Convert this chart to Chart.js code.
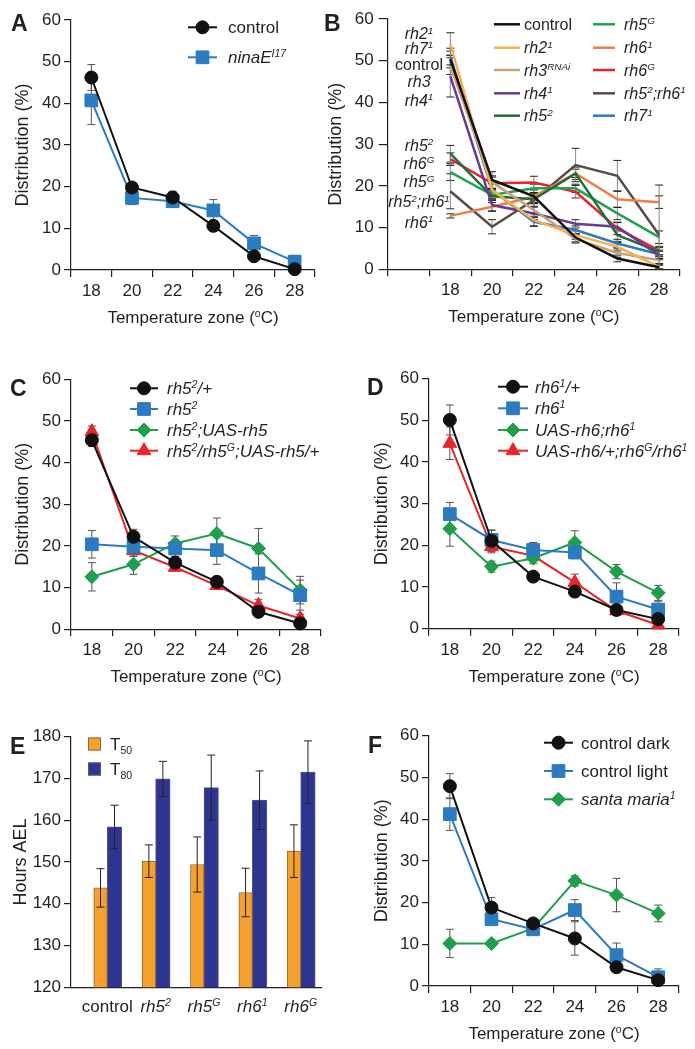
<!DOCTYPE html>
<html>
<head>
<meta charset="utf-8">
<script src="https://cdn.jsdelivr.net/npm/chart.js@4.4.0/dist/chart.umd.min.js"></script>
<style>
  body { margin: 0; background: #fff; width: 695px; height: 1049px; position: relative; overflow: hidden; }
  canvas { position: absolute; }
  .tag { position: absolute; font: bold 23px "Liberation Sans", Arial, sans-serif; line-height: 23px; color: #231f20; }
</style>
</head>
<body>
<canvas id="chartA"></canvas>
<canvas id="chartB"></canvas>
<canvas id="chartC"></canvas>
<canvas id="chartD"></canvas>
<canvas id="chartE"></canvas>
<canvas id="chartF"></canvas>
<div class="tag" style="left:11px;top:12px">A</div>
<div class="tag" style="left:324px;top:12px">B</div>
<div class="tag" style="left:10px;top:377px">C</div>
<div class="tag" style="left:367px;top:376px">D</div>
<div class="tag" style="left:10px;top:735px">E</div>
<div class="tag" style="left:368px;top:734px">F</div>
<script>
// ---- data ----
const temps = ['18', '20', '22', '24', '26', '28'];

// A
const aControl = [46.2, 19.8, 17.4, 10.6, 3.3, 0.2];
const aControlErr = [3.1, 0.9, 1.5, 1.2, 1.2, 0.3];
const aNinaE = [40.7, 17.3, 16.5, 14.3, 6.4, 2.0];
const aNinaEErr = [5.8, 1.6, 0.6, 2.6, 1.9, 1.5];

// B
const bLabels = ['control', '*rh2^{1}*', '*rh3^{RNAi}*', '*rh4^{1}*', '*rh5^{2}*',
                 '*rh5^{G}*', '*rh6^{1}*', '*rh6^{G}*', '*rh5^{2};rh6^{1}*', '*rh7^{1}*'];
const bColors = ['#111111', '#f5b24c', '#c5a27e', '#6a3b95', '#1d6e3a',
                 '#22a24f', '#ef7d45', '#e2272f', '#5a4c45', '#2b7bbf'];
const bValues = [
  [50.3, 21.4, 17.5, 7.6, 2.6, 0.5],
  [54.0, 19.0, 11.8, 8.2, 5.4, 0.6],
  [48.7, 20.9, 14.2, 7.3, 3.9, 2.2],
  [46.3, 15.4, 13.4, 10.9, 10.2, 3.3],
  [27.7, 17.5, 16.8, 23.0, 8.2, 4.2],
  [23.3, 17.8, 19.4, 19.4, 13.4, 7.7],
  [12.8, 15.0, 17.4, 23.0, 16.8, 16.1],
  [26.4, 20.6, 20.8, 18.6, 9.8, 4.5],
  [18.7, 10.2, 16.6, 25.0, 22.4, 8.2],
  [51.0, 19.0, 11.4, 9.4, 6.2, 3.6]
];
const bErrors = [
  [2.0, 2.0, 1.5, 1.0, 0.8, 0.5],
  [2.7, 1.5, 1.5, 1.0, 1.0, 0.5],
  [2.0, 1.5, 1.5, 1.0, 1.0, 0.8],
  [5.0, 1.5, 1.5, 1.0, 1.0, 1.0],
  [2.0, 1.0, 1.0, 1.5, 1.5, 1.0],
  [2.0, 1.0, 1.0, 1.0, 1.5, 1.5],
  [0.5, 1.0, 1.0, 1.0, 2.0, 1.5],
  [1.5, 1.5, 1.5, 1.5, 1.5, 1.0],
  [4.2, 1.7, 1.5, 4.0, 3.7, 12.0],
  [2.0, 1.5, 1.0, 1.0, 1.0, 1.0]
];
const bSideLabels = ['*rh2^{1}*', '*rh7^{1}*', 'control', '*rh3*', '*rh4^{1}*',
                     '*rh5^{2}*', '*rh6^{G}*', '*rh5^{G}*', '*rh5^{2};rh6^{1}*', '*rh6^{1}*'];
const bSideLevels = [56.5, 53.1, 49.1, 45.1, 40.6, 29.8, 25.4, 21.0, 16.2, 11.4];

// C
const cHet = [45.4, 22.2, 16.0, 11.4, 4.2, 1.4];
const cHetErr = [1.5, 1.8, 1.5, 1.2, 0.8, 1.0];
const cRh5 = [20.4, 19.8, 19.4, 19.0, 13.4, 8.2];
const cRh5Err = [3.3, 2.2, 2.0, 3.4, 4.7, 3.6];
const cRescue = [12.6, 15.6, 20.6, 23.0, 19.4, 9.4];
const cRescueErr = [3.4, 2.4, 1.8, 3.7, 4.8, 3.3];
const cGal4 = [47.4, 18.9, 14.9, 10.5, 5.7, 2.6];
const cGal4Err = [1.4, 1.4, 1.0, 0.8, 1.5, 1.0];

// D
const dHet = [50.1, 21.1, 12.5, 8.9, 4.5, 2.3];
const dHetErr = [3.6, 2.6, 1.0, 1.0, 0.8, 0.8];
const dRh6 = [27.5, 21.3, 18.9, 18.3, 7.7, 4.6];
const dRh6Err = [2.8, 2.3, 1.8, 1.5, 3.3, 2.0];
const dRescue = [24.0, 14.9, 16.9, 20.7, 13.7, 8.6];
const dRescueErr = [4.2, 1.3, 1.3, 2.8, 1.7, 1.8];
const dGal4 = [44.5, 19.7, 17.5, 11.1, 4.3, 0.9];
const dGal4Err = [3.9, 1.5, 1.0, 2.0, 1.0, 0.5];

// E
const eGenotypes = ['control', '*rh5^{2}*', '*rh5^{G}*', '*rh6^{1}*', '*rh6^{G}*'];
const eT50 = [143.8, 150.2, 149.4, 142.7, 152.6];
const eT50Err = [4.6, 3.9, 6.6, 5.8, 6.3];
const eT80 = [158.4, 169.9, 167.8, 164.8, 171.5];
const eT80Err = [5.2, 4.2, 7.8, 7.0, 7.5];

// F
const fDark = [47.9, 18.8, 15.0, 11.4, 4.5, 1.4];
const fDarkErr = [3.0, 2.4, 1.0, 4.0, 1.0, 0.8];
const fLight = [41.2, 16.0, 13.6, 18.2, 7.4, 2.1];
const fLightErr = [3.9, 1.2, 1.3, 2.5, 2.9, 2.0];
const fSanta = [10.2, 10.2, 13.8, 25.2, 21.8, 17.4];
const fSantaErr = [3.4, 0.8, 1.2, 1.2, 4.0, 2.0];

// ---- drawing helpers ----
const FONT = '"Liberation Sans", Arial, Helvetica, sans-serif';
const INK = '#231f20';
const BLACK = '#111111', BLUE = '#2a7bbf', GREEN = '#1f9e4c', RED = '#e5262b';
Chart.defaults.font.family = FONT;
Chart.defaults.color = INK;

// tiny markup: *...* italic, ^{..} superscript, _{..} subscript
function richParts(str) {
  const parts = [];
  let italic = false, buf = '';
  for (let i = 0; i < str.length; i++) {
    const c = str[i];
    if (c === '*') {
      if (buf) parts.push({t: buf, it: italic, pos: 0});
      buf = '';
      italic = !italic;
    } else if ((c === '^' || c === '_') && str[i + 1] === '{') {
      if (buf) parts.push({t: buf, it: italic, pos: 0});
      buf = '';
      const end = str.indexOf('}', i);
      parts.push({t: str.slice(i + 2, end), it: italic, pos: c === '^' ? 1 : -1});
      i = end;
    } else {
      buf += c;
    }
  }
  if (buf) parts.push({t: buf, it: italic, pos: 0});
  return parts;
}

function drawRich(ctx, str, x, y, size, align) {
  const parts = richParts(str);
  let total = 0;
  parts.forEach(p => {
    p.size = p.pos ? size * 0.62 : size;
    p.font = (p.it ? 'italic ' : '') + p.size + 'px ' + FONT;
    ctx.font = p.font;
    p.w = ctx.measureText(p.t).width;
    total += p.w;
  });
  let cx = align === 'center' ? x - total / 2 : (align === 'right' ? x - total : x);
  const base = y + size * 0.36;
  ctx.save();
  ctx.fillStyle = INK;
  ctx.textAlign = 'left';
  ctx.textBaseline = 'alphabetic';
  parts.forEach(p => {
    ctx.font = p.font;
    const dy = p.pos === 1 ? -size * 0.36 : (p.pos === -1 ? size * 0.22 : 0);
    ctx.fillText(p.t, cx, base + dy);
    cx += p.w;
  });
  ctx.restore();
}

function drawErrors(chart, cfg) {
  const ctx = chart.ctx;
  const ys = chart.scales.y;
  const cap = cfg.cap || 4;
  chart.data.datasets.forEach((ds, di) => {
    if (!ds.errors) return;
    const meta = chart.getDatasetMeta(di);
    meta.data.forEach((el, i) => {
      const e = ds.errors[i];
      const raw = ds.data[i];
      const v = raw !== null && typeof raw === 'object' ? raw.y : raw;
      if (e == null || v == null) return;
      const yt = ys.getPixelForValue(v + e);
      const yb = ys.getPixelForValue(Math.max(v - e, ys.min));
      const x = el.x;
      ctx.save();
      ctx.lineWidth = 1;
      ctx.strokeStyle = cfg.errColor;
      ctx.beginPath();
      ctx.moveTo(x, yt); ctx.lineTo(x, yb);
      ctx.stroke();
      ctx.strokeStyle = cfg.capColor || cfg.errColor;
      ctx.beginPath();
      ctx.moveTo(x - cap, yt); ctx.lineTo(x + cap, yt);
      ctx.moveTo(x - cap, yb); ctx.lineTo(x + cap, yb);
      ctx.stroke();
      ctx.restore();
    });
  });
}

function drawLegend(chart, lg, panel) {
  const ctx = chart.ctx;
  chart.data.datasets.forEach((ds, i) => {
    const col = lg.cols[Math.floor(i / lg.rows.length)];
    const y = lg.rows[i % lg.rows.length] - panel.top;
    const x1 = col.x1 - panel.left, x2 = col.x2 - panel.left, tx = col.tx - panel.left;
    ctx.save();
    if (lg.box) {
      const s = x2 - x1;
      ctx.fillStyle = ds.backgroundColor;
      ctx.strokeStyle = ds.borderColor;
      ctx.lineWidth = 1;
      ctx.fillRect(x1, y - s / 2, s, s);
      ctx.strokeRect(x1 + 0.5, y - s / 2 + 0.5, s - 1, s - 1);
    } else {
      ctx.strokeStyle = ds.borderColor;
      ctx.lineWidth = ds.borderWidth;
      ctx.beginPath();
      ctx.moveTo(x1, y); ctx.lineTo(x2, y);
      ctx.stroke();
      if (ds.pointRadius > 0) {
        ctx.fillStyle = ds.pointBackgroundColor;
        ctx.strokeStyle = ds.pointBorderColor;
        ctx.lineWidth = 1;
        Chart.helpers.drawPoint(ctx, {pointStyle: ds.pointStyle, radius: ds.pointRadius, borderWidth: 1, rotation: 0}, (x1 + x2) / 2, y);
      }
    }
    ctx.restore();
    drawRich(ctx, ds.label, tx, y, lg.size || 17, 'left');
  });
}

function extras(cfg, panel) {
  return {
    id: 'extras',
    beforeDatasetsDraw(chart) { if (!cfg.errorsOnTop) drawErrors(chart, cfg); },
    afterDatasetsDraw(chart) { if (cfg.errorsOnTop) drawErrors(chart, cfg); },
    afterDraw(chart) {
      const ctx = chart.ctx, a = chart.chartArea;
      if (cfg.xTitle) drawRich(ctx, cfg.xTitle, (a.left + a.right) / 2, a.bottom + 47, 17, 'center');
      if (cfg.legend) drawLegend(chart, cfg.legend, panel);
      if (cfg.sideLabels) {
        const xs = chart.scales.x, ys = chart.scales.y;
        const cx = (a.left + xs.getPixelForValue(1)) / 2;
        cfg.sideLabels.forEach((t, i) => drawRich(ctx, t, cx, ys.getPixelForValue(cfg.sideLevels[i]), 16, 'center'));
      }
      if (cfg.xLabels) {
        const xs = chart.scales.x;
        cfg.xLabels.forEach((t, i) => drawRich(ctx, t, xs.getPixelForValue(i), a.bottom + 19, 17, 'center'));
      }
    }
  };
}

function yAxis(min, max, title, titlePad, tickLen, tickPad, width) {
  return {
    min: min, max: max,
    ticks: {stepSize: 10, padding: tickPad, color: INK, font: {size: 17}},
    grid: {display: true, drawOnChartArea: false, drawTicks: true, tickLength: tickLen, color: INK, lineWidth: 1.2},
    border: {display: true, color: INK, width: 1.2},
    title: {display: true, text: title, color: INK, font: {size: 18}, padding: {top: titlePad, bottom: 0}},
    afterFit: s => { s.width = width; }
  };
}

function catAxis(height) {
  return {
    type: 'category', offset: true,
    grid: {display: true, offset: true, drawOnChartArea: false, drawTicks: true, tickLength: 7, color: INK, lineWidth: 1.2},
    border: {display: true, color: INK, width: 1.2},
    ticks: {padding: 4, color: INK, font: {size: 17}, autoSkip: false, maxRotation: 0},
    afterFit: s => { s.height = height; }
  };
}

function series(label, values, errors, color, style, radius, width) {
  return {
    label: label, data: values, errors: errors,
    borderColor: color, backgroundColor: color,
    pointBackgroundColor: color, pointBorderColor: color, pointBorderWidth: 1,
    pointStyle: style || 'circle', pointRadius: style ? radius : 0, pointHoverRadius: style ? radius : 0,
    borderWidth: width || 2, tension: 0, clip: false
  };
}

// panel: canvas box in page px, area: wanted chart area in page px
function makePanel(id, panel, area, yCfg, xCfg, type, labels, datasets, cfg) {
  const cv = document.getElementById(id);
  cv.width = panel.w; cv.height = panel.h;
  cv.style.left = panel.left + 'px';
  cv.style.top = panel.top + 'px';
  const y = yAxis(yCfg.min, yCfg.max, yCfg.title, yCfg.titleCenter - panel.left - 10.8,
                  yCfg.tickLen || 7, yCfg.tickPad || 3, area.l - panel.left);
  const x = xCfg || catAxis(panel.top + panel.h - area.b);
  if (xCfg) x.afterFit = s => { s.height = panel.top + panel.h - area.b; };
  return new Chart(cv, {
    type: type,
    data: {labels: labels, datasets: datasets},
    options: {
      responsive: false, animation: false, devicePixelRatio: 1,
      layout: {padding: {left: 0, top: area.t - panel.top, right: panel.left + panel.w - area.r, bottom: 0}},
      plugins: {legend: {display: false}, tooltip: {enabled: false}},
      scales: {x: x, y: y}
    },
    plugins: [extras(cfg, panel)]
  });
}

const xTitle = 'Temperature zone (^{o}C)';

// ---- A ----
makePanel('chartA', {left: 0, top: 0, w: 325, h: 330}, {l: 71, t: 20, r: 321, b: 270},
  {min: 0, max: 60, title: 'Distribution (%)', titleCenter: 23}, null, 'line', temps,
  [series('control', aControl, aControlErr, BLACK, 'circle', 6.5),
   series('*ninaE^{I17}*', aNinaE, aNinaEErr, BLUE, 'rect', 9)],
  {errColor: '#555', cap: 4, xTitle: xTitle,
   legend: {cols: [{x1: 188, x2: 217, tx: 228}], rows: [27.3, 57.3]}});

// ---- B ----
const bDatasets = bLabels.map((lab, i) =>
  series(lab, [null].concat(bValues[i]), [null].concat(bErrors[i]), bColors[i], false, 0, 2.5));
makePanel('chartB', {left: 320, top: 0, w: 375, h: 330}, {l: 387.7, t: 19, r: 680, b: 269.3},
  {min: 0, max: 60, title: 'Distribution (%)', titleCenter: 336, tickLen: 9, tickPad: 5}, null, 'line',
  [''].concat(temps), bDatasets,
  {errColor: '#8a8a8a', capColor: '#222', cap: 4, xTitle: xTitle,
   sideLabels: bSideLabels, sideLevels: bSideLevels,
   legend: {size: 16, cols: [{x1: 494, x2: 520, tx: 524}, {x1: 593, x2: 615, tx: 624}], rows: [24.3, 47.7, 70, 93.3, 115.7]}});

// ---- C ----
makePanel('chartC', {left: 0, top: 335, w: 340, h: 360}, {l: 71, t: 379.3, r: 321, b: 629.3},
  {min: 0, max: 60, title: 'Distribution (%)', titleCenter: 23}, null, 'line', temps,
  [series('*rh5^{2}/+*', cHet, cHetErr, BLACK, 'circle', 6.5),
   series('*rh5^{2}*', cRh5, cRh5Err, BLUE, 'rect', 9),
   series('*rh5^{2};UAS-rh5*', cRescue, cRescueErr, GREEN, 'rectRot', 7),
   series('*rh5^{2}/rh5^{G};UAS-rh5/+*', cGal4, cGal4Err, RED, 'triangle', 8)],
  {errColor: '#555', cap: 4, xTitle: xTitle,
   legend: {cols: [{x1: 130, x2: 158, tx: 167}], rows: [388.3, 409, 430, 450.7]}});

// ---- D ----
makePanel('chartD', {left: 340, top: 335, w: 355, h: 360}, {l: 429, t: 378.7, r: 679, b: 628.7},
  {min: 0, max: 60, title: 'Distribution (%)', titleCenter: 382}, null, 'line', temps,
  [series('*rh6^{1}/+*', dHet, dHetErr, BLACK, 'circle', 6.5),
   series('*rh6^{1}*', dRh6, dRh6Err, BLUE, 'rect', 9),
   series('*UAS-rh6;rh6^{1}*', dRescue, dRescueErr, GREEN, 'rectRot', 7),
   series('*UAS-rh6/+;rh6^{G}/rh6^{1}*', dGal4, dGal4Err, RED, 'triangle', 8)],
  {errColor: '#555', cap: 4, xTitle: xTitle,
   legend: {cols: [{x1: 498, x2: 528, tx: 535}], rows: [386.7, 408.3, 430, 450.7]}});

// ---- E ----
const eX = {
  type: 'linear', offset: false, min: -0.75, max: 4.42,
  ticks: {display: false},
  grid: {display: false},
  border: {display: true, color: INK, width: 1.2}
};
makePanel('chartE', {left: 0, top: 695, w: 340, h: 354}, {l: 71, t: 736.7, r: 321, b: 987.3},
  {min: 120, max: 180, title: 'Hours AEL', titleCenter: 21}, eX, 'bar', null,
  [{label: 'T_{50}', data: eT50.map((v, i) => ({x: i, y: v})), errors: eT50Err,
    backgroundColor: '#f6a12e', borderColor: '#8d6a3e', borderWidth: 1, barThickness: 13.5},
   {label: 'T_{80}', data: eT80.map((v, i) => ({x: i, y: v})), errors: eT80Err,
    backgroundColor: '#2e3590', borderColor: '#55587a', borderWidth: 1, barThickness: 14.5}],
  {errColor: '#222', cap: 4, errorsOnTop: true, xLabels: eGenotypes,
   legend: {box: true, cols: [{x1: 88, x2: 101, tx: 110}], rows: [744, 769]}});

// ---- F ----
makePanel('chartF', {left: 340, top: 695, w: 355, h: 354}, {l: 429, t: 735.7, r: 679, b: 986},
  {min: 0, max: 60, title: 'Distribution (%)', titleCenter: 382}, null, 'line', temps,
  [series('control dark', fDark, fDarkErr, BLACK, 'circle', 6.5),
   series('control light', fLight, fLightErr, BLUE, 'rect', 9),
   series('*santa maria^{1}*', fSanta, fSantaErr, GREEN, 'rectRot', 7)],
  {errColor: '#555', cap: 4, xTitle: xTitle,
   legend: {cols: [{x1: 544, x2: 573, tx: 581}], rows: [742.7, 771, 799.3]}});
</script>
</body>
</html>
